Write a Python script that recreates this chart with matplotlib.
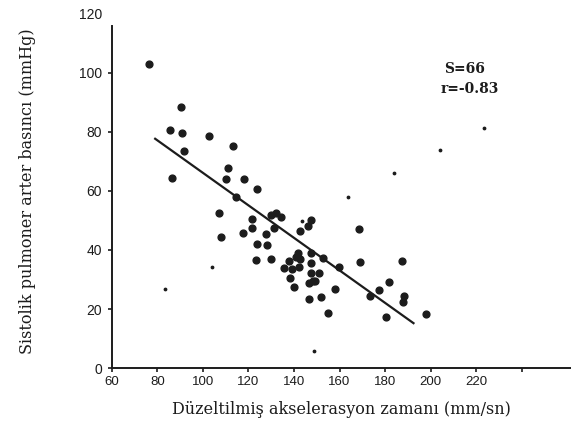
import matplotlib
matplotlib.use("Agg")
import matplotlib.pyplot as plt

# ---- Data ----
akselerasyon = [76.5, 90.3, 85.7, 90.7, 102.5, 113.2, 91.6, 111.0, 86.2, 110.1,
                118.1, 123.9, 114.5, 107.0, 108.1, 121.4, 121.4, 117.8, 123.6, 123.3,
                127.7, 128.0, 130.1, 131.2, 130.1, 132.3, 134.2, 142.5, 147.3, 146.1,
                135.7, 137.8, 139.3, 138.4, 140.0, 141.7, 141.0, 142.5, 142.0, 147.5,
                147.5, 147.5, 146.8, 148.3, 149.4, 150.9, 152.6, 146.5, 152.0, 155.1,
                158.1, 159.6, 168.6, 169.0, 173.2, 177.5, 181.9, 180.6, 187.3, 188.5,
                187.7, 197.8]
basinc = [103.0, 88.6, 80.7, 79.6, 78.8, 75.3, 73.7, 67.8, 64.4, 63.9,
          64.1, 60.7, 57.9, 52.4, 44.4, 50.5, 47.3, 45.8, 42.2, 36.6,
          45.3, 41.7, 36.8, 47.3, 52.0, 52.6, 51.2, 46.4, 50.0, 48.1,
          34.0, 36.3, 33.4, 30.6, 27.6, 39.0, 37.7, 36.8, 34.4, 39.0,
          35.5, 32.3, 28.9, 29.5, 29.5, 32.3, 37.4, 23.3, 23.9, 18.5,
          26.7, 34.3, 47.0, 35.9, 24.4, 26.5, 29.2, 17.3, 36.3, 24.4,
          22.4, 18.2]

# faint small specks printed on the page
speck_x = [83.5, 103.8, 143.6, 149.0, 163.9, 183.8, 204.0, 223.3]
speck_y = [26.7, 34.4, 49.8, 5.6, 57.9, 66.1, 73.8, 81.5]

# regression line ends
fit_x = [79.0, 192.5]
fit_y = [77.7, 15.2]

x_ticks = [60, 80, 100, 120, 140, 160, 180, 200, 220, 240]
x_labels = ["60", "80", "100", "120", "140", "160", "180", "200", "220", ""]
y_ticks = [0, 20, 40, 60, 80, 100, 120]

ink = "#1c1c1c"

fig = plt.figure(figsize=(5.71, 4.23), dpi=100)
ax = fig.add_axes([0.196, 0.130, 0.804, 0.837])

ax.scatter(akselerasyon, basinc, s=24, color=ink, zorder=3)
ax.scatter(speck_x, speck_y, s=3, color=ink, zorder=3)
ax.plot(fit_x, fit_y, color=ink, linewidth=1.6, zorder=2)

ax.set_xlim(62.2, 261.7)
ax.set_ylim(0, 120)

for side in ["top", "right"]:
    ax.spines[side].set_visible(False)
ax.spines["left"].set_bounds(0, 116)
ax.spines["left"].set_linewidth(1.4)
ax.spines["bottom"].set_linewidth(1.4)
ax.spines["left"].set_color(ink)
ax.spines["bottom"].set_color(ink)

ax.set_xticks(x_ticks)
ax.set_xticklabels(x_labels, family="Liberation Sans", fontsize=9.5, color=ink)
ax.set_yticks(y_ticks)
ax.set_yticklabels([str(v) for v in y_ticks], family="Liberation Sans", fontsize=10, color=ink)
ax.tick_params(axis="both", direction="out", length=3, width=1.2, color=ink, pad=3)
ax.tick_params(axis="y", pad=4)
# no tick mark beside the 120 label
ax.yaxis.get_major_ticks()[-1].tick1line.set_visible(False)

ax.set_xlabel("Düzeltilmiş akselerasyon zamanı (mm/sn)", family="DejaVu Serif",
              fontsize=11.5, color=ink, labelpad=9)
ax.set_ylabel("Sistolik pulmoner arter basıncı (mmHg)", family="DejaVu Serif",
              fontsize=11.5, color=ink, labelpad=31)

ax.text(0.724, 0.834, "S=66", transform=ax.transAxes, family="DejaVu Serif",
        fontsize=10, fontweight="bold", color=ink)
ax.text(0.717, 0.778, "r=-0.83", transform=ax.transAxes, family="DejaVu Serif",
        fontsize=10, fontweight="bold", color=ink)

fig.savefig("out.png", dpi=100, facecolor="white")
